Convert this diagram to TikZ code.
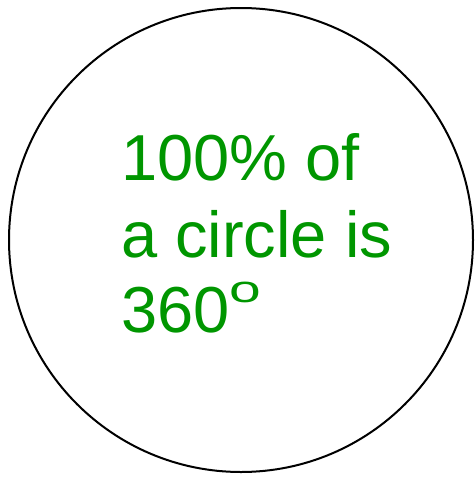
\documentclass[tikz,border=0pt]{standalone}
\usepackage{fontspec}
\usepackage{graphicx}
\setmainfont{Liberation Sans}
\definecolor{txtgreen}{RGB}{0,150,0}
\begin{document}
\begin{tikzpicture}[x=1pt,y=1pt,
  ring/.style={draw=black,line width=2pt},
  bigtext/.style={text=txtgreen,font=\fontsize{65}{76}\selectfont,inner sep=0pt,anchor=base west}]
\useasboundingbox (0,0) rectangle (475,-477);
\node[ring,circle,minimum size=464pt,inner sep=0pt] (c) at (241,-240) {};
\node[bigtext] (l1) at (121,-180) {100\% of};
\node[bigtext] (l2) at (121,-257) {a circle is};
\node[bigtext] (l3) at (121,-332) {360\raisebox{30pt}{\fontsize{38}{38}\selectfont\scalebox{1.5}[1]{o}}};
\end{tikzpicture}
\end{document}
